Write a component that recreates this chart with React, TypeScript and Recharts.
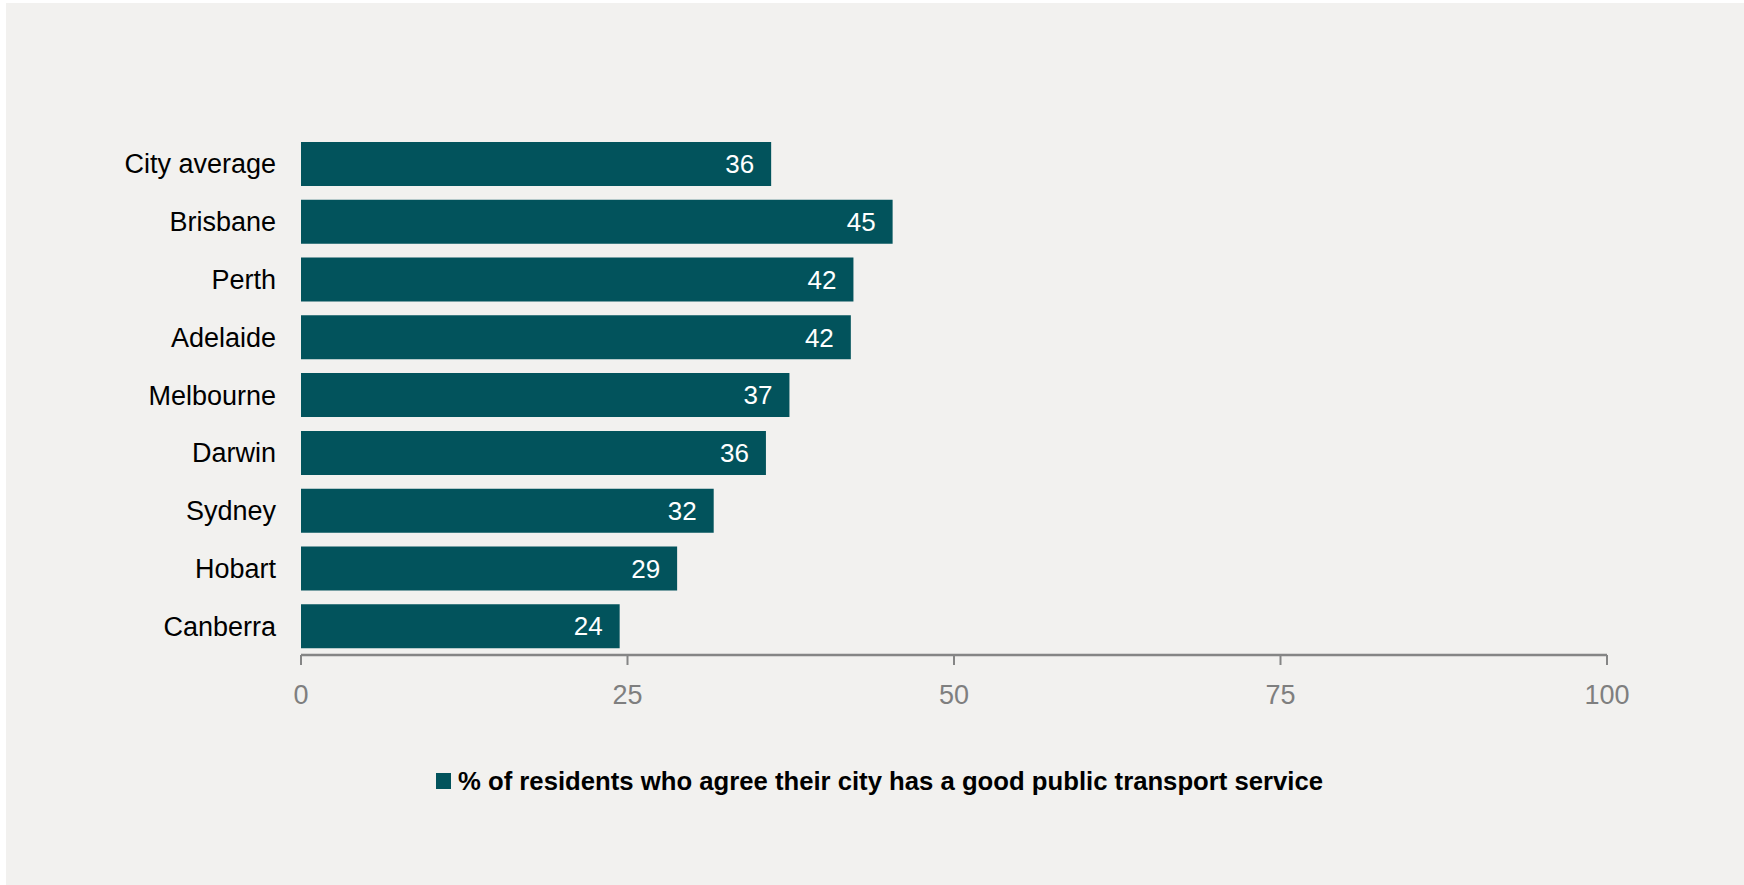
import { Bar, BarChart, LabelList, Legend, XAxis, YAxis } from "recharts";

const cities = [
  "City average",
  "Brisbane",
  "Perth",
  "Adelaide",
  "Melbourne",
  "Darwin",
  "Sydney",
  "Hobart",
  "Canberra",
];
const agreeShare = [36.0, 45.3, 42.3, 42.1, 37.4, 35.6, 31.6, 28.8, 24.4];
const xTicks = [0, 25, 50, 75, 100];
const seriesName = "% of residents who agree their city has a good public transport service";

const TEAL = "#02535c";
const FONT = '"Liberation Sans", Arial, Helvetica, sans-serif';

const rows = cities.map((city, i) => ({ city, share: agreeShare[i] }));

function LegendBox() {
  return (
    <div style={{ display: "flex", alignItems: "center", paddingLeft: 430, height: 30 }}>
      <div style={{ width: 15, height: 16, background: TEAL }} />
      <span
        style={{
          marginLeft: 7,
          fontFamily: FONT,
          fontWeight: "bold",
          fontSize: 25.7,
          lineHeight: "30px",
          color: "#000",
          whiteSpace: "nowrap",
        }}
      >
        {seriesName}
      </span>
    </div>
  );
}

export default function App() {
  return (
    <div style={{ position: "fixed", left: 6, top: 3, width: 1738, height: 882, background: "#f2f1ef" }}>
      <BarChart
        width={1738}
        height={882}
        data={rows}
        layout="vertical"
        margin={{ top: 132, right: 137, bottom: 170, left: 0 }}
        style={{ fontFamily: FONT }}
      >
        <XAxis
          type="number"
          domain={[0, 100]}
          ticks={xTicks}
          height={60}
          axisLine={{ stroke: "#858585", strokeWidth: 2.5 }}
          tickLine={{ stroke: "#858585", strokeWidth: 2 }}
          tickSize={10}
          tickMargin={20}
          tick={{ fill: "#7f7f7f", fontSize: 27, fontFamily: FONT }}
        />
        <YAxis
          type="category"
          dataKey="city"
          width={295}
          axisLine={false}
          tickLine={false}
          tickSize={0}
          tickMargin={25}
          interval={0}
          tick={{ fill: "#000", fontSize: 27, fontFamily: FONT }}
        />
        <Legend
          layout="horizontal"
          verticalAlign="middle"
          align="center"
          wrapperStyle={{ left: 0, top: 763, width: 1738 }}
          content={() => <LegendBox />}
        />
        <Bar dataKey="share" name={seriesName} fill={TEAL} barSize={44} isAnimationActive={false}>
          <LabelList
            dataKey="share"
            position="insideRight"
            offset={17}
            formatter={(v: number) => Math.round(v)}
            fill="#fff"
            fontSize={26}
            fontFamily={FONT}
          />
        </Bar>
      </BarChart>
    </div>
  );
}
